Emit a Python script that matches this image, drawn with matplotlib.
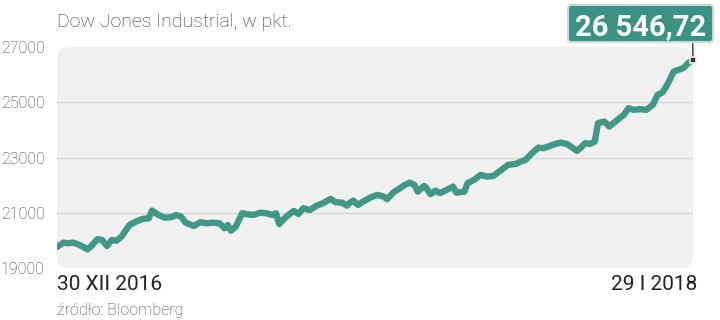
import matplotlib
matplotlib.use("Agg")
import matplotlib.pyplot as plt
from matplotlib.patches import FancyBboxPatch

# days since 30 XII 2016 and index level
days = [0, 4, 7, 10, 13, 16, 19, 21, 25, 28, 31, 34, 37, 40, 45, 49, 53, 57, 59,
        63, 67, 71, 74, 77, 80, 85, 89, 93, 97, 101, 104, 106, 108, 111, 115, 118,
        122, 126, 130, 134, 136, 138, 142, 147, 150, 153, 157, 161, 165, 170, 173,
        177, 180, 182, 184, 187, 190, 195, 199, 203, 205, 209, 213, 216, 219, 222,
        224, 228, 229, 232, 235, 238, 242, 246, 248, 253, 255, 259, 263, 267, 271,
        276, 280, 285, 288, 291, 295, 299, 302, 305, 309, 313, 317, 320, 323, 326,
        328, 331, 334, 336, 340, 343, 348, 352, 355, 358, 362, 366, 370, 373, 376,
        379, 383, 386, 389, 392, 395]
dji = [19763, 19917, 19895, 19917, 19859, 19772, 19677, 19772, 20040, 20014, 19797,
       20014, 19989, 20134, 20558, 20678, 20775, 20800, 21076, 20920, 20822, 20837,
       20920, 20859, 20641, 20522, 20656, 20619, 20641, 20619, 20438, 20558, 20351,
       20496, 20982, 20946, 20920, 21000, 20982, 20920, 20982, 20594, 20837, 21065,
       20957, 21163, 21101, 21246, 21344, 21500, 21380, 21366, 21257, 21366, 21438,
       21282, 21402, 21561, 21645, 21583, 21489, 21742, 21887, 22007, 22091, 22007,
       21765, 21971, 21923, 21670, 21801, 21707, 21826, 21946, 21728, 21765, 22069,
       22188, 22370, 22308, 22333, 22551, 22732, 22768, 22851, 22913, 23156, 23359,
       23337, 23395, 23482, 23540, 23482, 23359, 23239, 23395, 23518, 23493, 23576,
       24243, 24301, 24120, 24362, 24543, 24786, 24725, 24750, 24725, 24906, 25268,
       25351, 25630, 26112, 26174, 26236, 26417, 26546.72]

yticks = [19000, 21000, 23000, 25000, 27000]
last_label = "26 546,72"
start_label = "30 XII 2016"
end_label = "29 I 2018"

green = "#419884"
W, H = 720, 320
fonts = ["Roboto", "DejaVu Sans"]

fig = plt.figure(figsize=(7.2, 3.2), dpi=100)
ax = fig.add_axes([57 / W, 1 - 268 / H, 636 / W, 221 / H])
ax.set_facecolor("none")

# rounded grey panel behind the plot
bg = FancyBboxPatch((57 / W, 1 - 268 / H), 636 / W, 221 / H,
                    boxstyle=f"round,pad=0,rounding_size={12 / W}",
                    mutation_aspect=W / H, transform=fig.transFigure,
                    facecolor="#f1f1f2", edgecolor="none", zorder=0)
fig.add_artist(bg)

ax.plot(days, dji, color=green, lw=4.6, solid_capstyle="round",
        solid_joinstyle="round", zorder=3)
ax.set_xlim(0, 395)
ax.set_ylim(19000, 27000)

for v in yticks[1:-1]:
    ax.axhline(v, color="#d6d6d6", lw=1, zorder=1)

ax.set_yticks(yticks)
ax.set_yticklabels([str(v) for v in yticks], fontsize=11.5, color="#3a3a3a",
                   family=fonts, fontweight="light")
ax.tick_params(axis="y", length=0, pad=9)
ax.set_xticks([])
for s in ax.spines.values():
    s.set_visible(False)

# connector from the last point up to the value box
ax.annotate("", xy=(days[-1], dji[-1]), xycoords="data",
            xytext=(692.7 / W, 1 - 42 / H), textcoords="figure fraction",
            arrowprops=dict(arrowstyle="-", color="#333333", lw=1,
                            shrinkA=0, shrinkB=2), zorder=4)
ax.plot(days[-1], dji[-1], marker="s", ms=5, color="#333333",
        markeredgecolor="#eeeeee", markeredgewidth=1.2, zorder=5, clip_on=False)

box = FancyBboxPatch((568 / W, 1 - 42 / H), 145 / W, 37 / H,
                     boxstyle=f"round,pad=0,rounding_size={3 / W}",
                     mutation_aspect=W / H, transform=fig.transFigure,
                     facecolor="#3b9280", edgecolor="#d4d4d4", lw=1.5, zorder=6)
fig.add_artist(box)
fig.text(641 / W, 1 - 35 / H, last_label, fontsize=21, fontweight="bold",
         color="white", family=fonts, ha="center", va="baseline", zorder=7)

fig.text(57 / W, 1 - 27 / H, "Dow Jones Industrial, w pkt.", fontsize=14,
         color="#333333", family=fonts, fontweight="light", va="baseline")
fig.text(57 / W, 1 - 290 / H, start_label, fontsize=15, color="#222222",
         family=fonts, va="baseline")
fig.text(697 / W, 1 - 290 / H, end_label, fontsize=15, color="#222222",
         family=fonts, va="baseline", ha="right")
fig.text(57 / W, 1 - 315 / H, "źródło: Bloomberg", fontsize=11.5, color="#444444",
         family=fonts, fontweight="light", va="baseline")

fig.savefig("out.png", dpi=100)
